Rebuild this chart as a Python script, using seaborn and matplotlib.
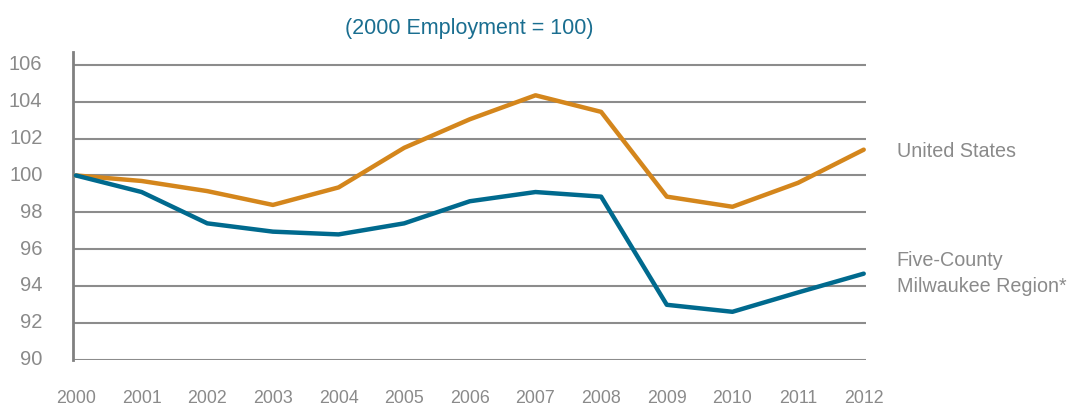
import matplotlib
matplotlib.use("Agg")
import matplotlib.pyplot as plt
import matplotlib.transforms as mtransforms
import seaborn as sns
import pandas as pd

years = list(range(2000, 2013))
us = [100.0, 99.7, 99.15, 98.4, 99.35, 101.5, 103.05, 104.35, 103.45, 98.85, 98.3, 99.6, 101.4]
milwaukee = [100.0, 99.1, 97.4, 96.95, 96.8, 97.4, 98.6, 99.1, 98.85, 92.98, 92.6, 93.65, 94.67]
series_names = ["United States", "Five-County Milwaukee Region*"]
series_labels = ["United States", "Five-County\nMilwaukee Region*"]
yticks = [90, 92, 94, 96, 98, 100, 102, 104, 106]
title = "(2000 Employment = 100)"

df = pd.DataFrame({
    "year": years * 2,
    "value": us + milwaukee,
    "series": [series_names[0]] * len(years) + [series_names[1]] * len(years),
})

sns.set_style("white")
plt.rcParams["font.family"] = ["Liberation Sans", "DejaVu Sans"]

ORANGE = "#D4861C"
BLUE = "#006A8E"
GRAY_TXT = "#8a8a8a"
GRID = "#8c8c8c"

fig = plt.figure(figsize=(10.67, 4.10), dpi=100)
ax = fig.add_axes([73 / 1067, 1 - 360.7 / 410, (865.7 - 73) / 1067, (360.7 - 53) / 410])

for y in yticks:
    ax.axhline(y, color=GRID, lw=1.5, zorder=1)

sns.lineplot(data=df, x="year", y="value", hue="series",
             palette={series_names[0]: ORANGE, series_names[1]: BLUE},
             linewidth=3.2, legend=False, ax=ax, zorder=3)

ax.set_xlim(1999.955, 2012.03)
ax.set_ylim(90, 106.7)
ax.set_xticks(years)
ax.set_xticklabels([str(y) for y in years])
ax.set_yticks(yticks)
ax.set_yticklabels([str(y) for y in yticks])
ax.tick_params(axis="x", length=0, pad=21, labelsize=12.8, labelcolor=GRAY_TXT)
ax.tick_params(axis="y", length=0, pad=22, labelsize=14.5, labelcolor=GRAY_TXT)
offset = mtransforms.ScaledTranslation(0, 3 / 100, fig.dpi_scale_trans)
for lbl in ax.get_yticklabels():
    lbl.set_transform(lbl.get_transform() + offset)
ax.set_xlabel("")
ax.set_ylabel("")
for s in ["top", "right", "bottom"]:
    ax.spines[s].set_visible(False)
ax.spines["left"].set_color("#808080")
ax.spines["left"].set_linewidth(2.0)
ax.grid(False)

ax.set_title(title, color="#1A6E90", fontsize=15.5, pad=14)

# right-side series labels
ax.text(2012.5, us[-1] - 0.05, series_labels[0], color=GRAY_TXT, fontsize=14.2,
        va="center", ha="left", clip_on=False)
ax.text(2012.5, 94.75, series_labels[1], color=GRAY_TXT, fontsize=14.2,
        va="center", ha="left", linespacing=1.45, clip_on=False)

fig.savefig("out.png", dpi=100)
